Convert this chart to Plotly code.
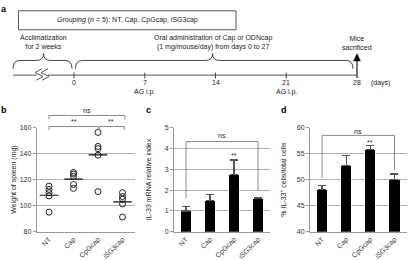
import numpy as np
import plotly.graph_objects as go

W, H = 409, 260
FONT = "Liberation Sans, Arial, sans-serif"

# ---------------- data ----------------
groups = ["NT", "Cap", "CpGcap", "iSG3cap"]

# panel b: spleen weight of individual mice (mg)
spleen_NT = [115, 112.5, 110, 107.5, 95]
spleen_Cap = [125.5, 124.3, 122.5, 116.3, 113.3]
spleen_CpGcap = [156.3, 145.5, 143.8, 138.8, 110.8]
spleen_iSG3cap = [110, 107, 105, 101.3, 91.3]

# panel c: IL-33 mRNA relative index
il33_mrna_mean = [1.0, 1.5, 2.75, 1.6]
il33_mrna_err = [0.2, 0.28, 0.7, 0.03]

# panel d: % IL-33+ cells / total cells
il33_cells_mean = [48.1, 52.7, 55.8, 50.0]
il33_cells_err = [0.8, 1.9, 0.8, 1.1]

b_ticks = [80, 100, 120, 140, 160]
c_ticks = [0, 1, 2, 3, 4, 5]
d_ticks = [40, 45, 50, 55, 60]

timeline_days = [0, 7, 14, 21, 28]
ag_days = [7, 21]
end_day = 28

# ---------------- layout helpers ----------------
Y_TOP, Y_BOT = 127, 234          # pixel rows of plot areas b, c, d
ydom = [1 - Y_BOT / H, 1 - Y_TOP / H]
panels = {
    "b": dict(xpx=(36.75, 134.75), yr=(80, 160)),
    "c": dict(xpx=(174, 270), yr=(0, 5)),
    "d": dict(xpx=(310, 406.5), yr=(40, 60)),
}


def pxx(px):
    return px / W


def pxy(py):
    return 1 - py / H


def cat_x(p, c):
    xl, xr = panels[p]["xpx"]
    return pxx(xl + (c + 0.5) / 4 * (xr - xl))


def val_y(p, v):
    y0, y1 = panels[p]["yr"]
    return pxy(Y_BOT - (v - y0) / (y1 - y0) * (Y_BOT - Y_TOP))


fig = go.Figure()

# ---------------- panel b ----------------
spleen = [spleen_NT, spleen_Cap, spleen_CpGcap, spleen_iSG3cap]
for i, vals in enumerate(spleen):
    fig.add_trace(go.Scatter(
        x=[i] * len(vals), y=vals, mode="markers",
        marker=dict(symbol="circle-open", size=6, color="#222", line=dict(width=1)),
        xaxis="x2", yaxis="y2", showlegend=False, hoverinfo="skip"))
    m = float(np.mean(vals))
    fig.add_trace(go.Scatter(
        x=[i - 0.38, i + 0.38], y=[m, m], mode="lines",
        line=dict(color="#111", width=1.2),
        xaxis="x2", yaxis="y2", showlegend=False, hoverinfo="skip"))

# ---------------- panel c / d bars ----------------
for ax, means, errs in (("3", il33_mrna_mean, il33_mrna_err),
                        ("4", il33_cells_mean, il33_cells_err)):
    fig.add_trace(go.Bar(
        x=list(range(len(groups))), y=means, width=0.42,
        marker=dict(color="black", line=dict(width=0)),
        error_y=dict(type="data", array=errs, arrayminus=[0] * len(errs),
                     symmetric=False, color="#555", thickness=1.3, width=4),
        xaxis="x" + ax, yaxis="y" + ax, showlegend=False, hoverinfo="skip"))

axis_common_x = dict(range=[-0.5, 3.5], tickvals=list(range(4)), ticktext=groups,
                     tickangle=-45, tickfont=dict(size=7, color="#333", family=FONT),
                     showline=True, linecolor="#999", linewidth=1, ticks="",
                     showgrid=False, zeroline=False, fixedrange=True)
axis_common_y = dict(domain=ydom, showgrid=True, gridcolor="#b0b0b0", gridwidth=1,
                     showline=True, linecolor="#999", linewidth=1, ticks="outside",
                     ticklen=3, tickcolor="#999", tickfont=dict(size=7, color="#333", family=FONT),
                     zeroline=False, fixedrange=True)

layout = dict(
    width=W, height=H, margin=dict(l=0, r=0, t=0, b=0),
    paper_bgcolor="white", plot_bgcolor="rgba(0,0,0,0)",
    font=dict(family=FONT, size=7, color="#222"),
    bargap=0,
)

K = 10.107      # pixels per day on the timeline
D0 = 74         # pixel column of day 0


def d(px):
    return (px - D0) / K


layout["xaxis"] = dict(domain=[0, 1], range=[d(0), d(W)], visible=False, fixedrange=True)
layout["yaxis"] = dict(domain=[1 - 100 / H, 1], range=[100, 0], visible=False, fixedrange=True)
for key, p in (("2", "b"), ("3", "c"), ("4", "d")):
    xl, xr = panels[p]["xpx"]
    layout["xaxis" + key] = dict(axis_common_x, domain=[pxx(xl), pxx(xr)], anchor="y" + key)
    layout["yaxis" + key] = dict(axis_common_y, range=list(panels[p]["yr"]), anchor="x" + key)
layout["yaxis2"]["tickvals"] = b_ticks
layout["yaxis3"]["tickvals"] = c_ticks
layout["yaxis4"]["tickvals"] = d_ticks

shapes = []
annotations = []


def text(x, y, s, size=7, xref="paper", yref="paper", **kw):
    color = kw.pop("color", "#222")
    annotations.append(dict(x=x, y=y, xref=xref, yref=yref, text=s, showarrow=False,
                            xanchor="center", yanchor="middle",
                            font=dict(size=size, family=FONT, color=color), **kw))


# ---------------- panel a: timeline schematic ----------------
GREY = "#777"
# grouping box
shapes.append(dict(type="rect", xref="x", yref="y", x0=d(18.5), x1=d(236), y0=7, y1=26.5,
                   line=dict(color="#555", width=1)))
text(d(127), 16.8, "<i>Grouping</i> (<i>n</i> = 5): NT, Cap, CpGcap, iSG3cap",
     xref="x", yref="y", size=7)

# main line with break
LY = 73
shapes.append(dict(type="line", xref="x", yref="y", x0=d(13), x1=d(36.5), y0=LY, y1=LY,
                   line=dict(color=GREY, width=1.2)))
shapes.append(dict(type="line", xref="x", yref="y", x0=d(48), x1=end_day, y0=LY, y1=LY,
                   line=dict(color=GREY, width=1.2)))
for off in (0, 6):
    pts = [(42 + off, 66.5), (35 + off, 70.5), (43 + off, 74.5), (36 + off, 78.5)]
    path = "M " + " L ".join(f"{d(px):.4f},{py}" for px, py in pts)
    shapes.append(dict(type="path", xref="x", yref="y", path=path,
                       line=dict(color="#555", width=1)))

# tick marks and labels
for day in timeline_days:
    if day != end_day:
        shapes.append(dict(type="line", xref="x", yref="y", x0=day, x1=day, y0=70.5, y1=76.5,
                           line=dict(color="#444", width=1)))
    text(day, 81, str(day), xref="x", yref="y")
text(d(380), 81, "(days)", xref="x", yref="y")
for day in ag_days:
    text(day, 90.5, "AG i.p.", xref="x", yref="y")


def brace(x0px, x1px, xmpx, ytop=58, yend=66.5, ypeak=51, r=7):
    X = lambda px: f"{d(px):.4f}"
    return (f"M {X(x0px)},{yend} Q {X(x0px)},{ytop} {X(x0px + r)},{ytop} "
            f"L {X(xmpx - r)},{ytop} Q {X(xmpx)},{ytop} {X(xmpx)},{ypeak} "
            f"Q {X(xmpx)},{ytop} {X(xmpx + r)},{ytop} "
            f"L {X(x1px - r)},{ytop} Q {X(x1px)},{ytop} {X(x1px)},{yend}")


shapes.append(dict(type="path", xref="x", yref="y", path=brace(13, 72, 43.5),
                   line=dict(color="#444", width=1)))
shapes.append(dict(type="path", xref="x", yref="y", path=brace(75.5, 353, 212.5),
                   line=dict(color="#444", width=1)))
text(d(43.5), 39.5, "Acclimatization<br>for 2 weeks", xref="x", yref="y")
text(d(212.5), 39.5, "Oral administration of Cap or ODNcap<br>(1 mg/mouse/day) from days 0 to 27",
     xref="x", yref="y")
text(end_day, 40.5, "Mice<br>sacrificed", xref="x", yref="y")

# arrow at sacrifice day
shapes.append(dict(type="line", xref="x", yref="y", x0=end_day, x1=end_day, y0=LY + 3, y1=57,
                   line=dict(color=GREY, width=2)))
hw = 3.4 / K
shapes.append(dict(type="path", xref="x", yref="y",
                   path=f"M {end_day - hw},58.5 L {end_day + hw},58.5 L {end_day},51 Z",
                   fillcolor="black", line=dict(color="black", width=0.5)))

# ---------------- significance brackets ----------------
BR = "#8a8a8a"


def bracket(p, c0, c1, ytop, yl, yr_):
    x0, x1 = cat_x(p, c0), cat_x(p, c1)
    shapes.append(dict(type="path", xref="paper", yref="paper",
                       path=f"M {x0},{val_y(p, yl)} L {x0},{val_y(p, ytop)} "
                            f"L {x1},{val_y(p, ytop)} L {x1},{val_y(p, yr_)}",
                       line=dict(color=BR, width=1)))


# b
bracket("b", 0, 3.1, 169.3, 166.3, 166.3)
bracket("b", 0, 2.0, 160.8, 158.2, 158.2)
bracket("b", 2.05, 3.07, 160.8, 158.2, 158.2)
text(cat_x("b", 1.55), val_y("b", 172.8), "ns")
text(cat_x("b", 1.0), val_y("b", 164.3), "**")
text(cat_x("b", 2.55), val_y("b", 164.3), "**")
# c
bracket("c", 0, 3, 4.33, 1.6, 1.98)
text(cat_x("c", 1.5), val_y("c", 4.63), "ns")
text(cat_x("c", 2), val_y("c", 3.68), "**")
# d
bracket("d", 0, 3, 58.5, 50.3, 51.85)
text(cat_x("d", 1.5), val_y("d", 59.3), "ns")
text(cat_x("d", 2), val_y("d", 57.1), "**")

# axis titles (rotated)
ymid = pxy((Y_TOP + Y_BOT) / 2)
text(pxx(14), ymid, "Weight of spleen (mg)", textangle=-90)
text(pxx(148.5), ymid, "IL-33 mRNA relative index", textangle=-90)
text(pxx(283), ymid, "% IL-33<sup>+</sup> cells/total cells", textangle=-90)

# panel letters
for lab, x, y in (("a", 4, 5), ("b", 4, 109), ("c", 148.5, 109), ("d", 284, 109)):
    text(pxx(x), pxy(y), f"<b>{lab}</b>", size=9, color="#000")

layout["shapes"] = shapes
layout["annotations"] = annotations
fig.update_layout(**layout)
fig.write_html("out.html", config={"displayModeBar": False},
               post_script="document.body.style.margin='0px';document.body.style.overflow='hidden';")
